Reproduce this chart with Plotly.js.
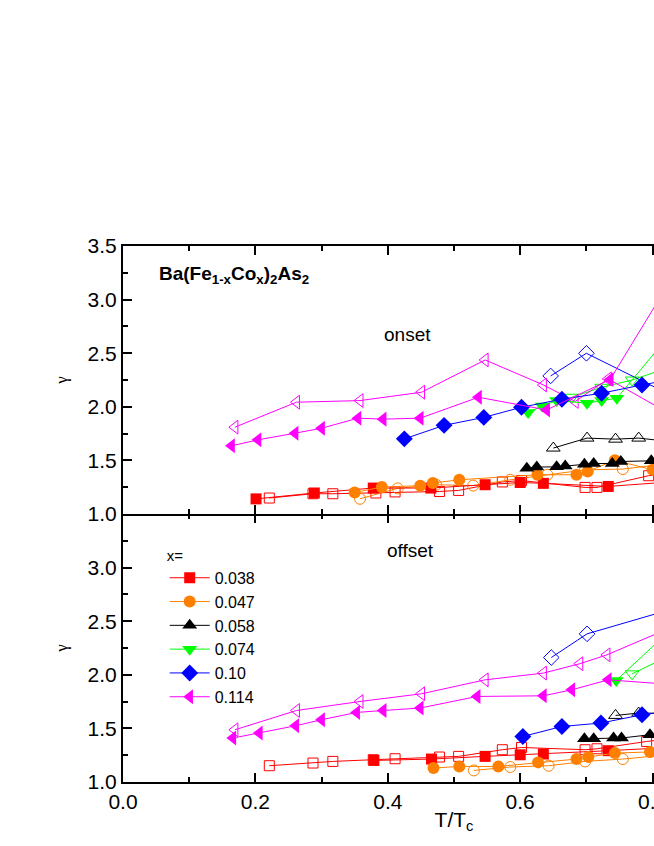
<!DOCTYPE html>
<html>
<head>
<meta charset="utf-8">
<script src="https://cdn.plot.ly/plotly-3.0.1.min.js"></script>
<style>
  html, body { margin: 0; padding: 0; overflow: hidden; background: #fff; }
  #chart { width: 820px; height: 846px; }
</style>
</head>
<body>
<div id="chart"></div>
<script>
// Ba(Fe1-xCox)2As2 anisotropy gamma vs T/Tc, points are [T/Tc, gamma]
const compositions = ["0.038", "0.047", "0.058", "0.074", "0.10", "0.114"];

// onset (top panel), filled = one sample set, open = the other
const onset038Filled = [[0.201,1.141],[0.289,1.196],[0.378,1.242],[0.465,1.242],[0.547,1.273],[0.600,1.294],[0.635,1.286],[0.733,1.257],[0.85,1.31]];
const onset038Open = [[0.221,1.149],[0.287,1.189],[0.317,1.189],[0.382,1.196],[0.411,1.206],[0.478,1.210],[0.507,1.220],[0.573,1.299],[0.602,1.312],[0.698,1.248],[0.716,1.248],[0.794,1.357],[0.85,1.40]];
const onset047Filled = [[0.350,1.201],[0.391,1.251],[0.449,1.264],[0.468,1.289],[0.508,1.319],[0.626,1.366],[0.685,1.366],[0.702,1.397],[0.743,1.501],[0.800,1.412],[0.85,1.45]];
const onset047Open = [[0.358,1.142],[0.415,1.239],[0.473,1.273],[0.529,1.265],[0.585,1.319],[0.641,1.366],[0.698,1.412],[0.755,1.419],[0.85,1.49]];
const onset058Filled = [[0.610,1.426],[0.625,1.438],[0.655,1.440],[0.668,1.448],[0.697,1.464],[0.711,1.471],[0.739,1.471],[0.752,1.490],[0.798,1.496],[0.85,1.51]];
const onset058Open = [[0.650,1.615],[0.701,1.708],[0.744,1.698],[0.779,1.708],[0.85,1.66]];
const onset074Filled = [[0.612,1.946],[0.633,2.008],[0.655,2.058],[0.701,2.034],[0.723,2.058],[0.746,2.080],[0.85,2.85]];
const onset074Open = [[0.678,2.089],[0.723,2.182],[0.769,2.250],[0.85,2.42]];
const onset10Filled = [[0.425,1.701],[0.485,1.827],[0.545,1.901],[0.602,1.996],[0.663,2.071],[0.723,2.127],[0.784,2.204],[0.85,2.28]];
const onset10Open = [[0.646,2.288],[0.700,2.499],[0.85,2.04]];
const onset114Filled = [[0.164,1.636],[0.204,1.692],[0.260,1.754],[0.300,1.800],[0.355,1.894],[0.393,1.885],[0.449,1.894],[0.537,2.089],[0.640,1.971],[0.736,2.255],[0.84,3.31]];
const onset114Open = [[0.169,1.810],[0.262,2.043],[0.358,2.058],[0.451,2.136],[0.547,2.437],[0.635,2.204],[0.683,2.050],[0.733,2.260],[0.85,1.85]];

// offset (bottom panel)
const offset038Filled = [[0.379,1.201],[0.466,1.214],[0.547,1.239],[0.600,1.254],[0.635,1.261],[0.733,1.292],[0.85,1.33]];
const offset038Open = [[0.221,1.152],[0.287,1.177],[0.317,1.192],[0.378,1.208],[0.411,1.217],[0.478,1.233],[0.507,1.239],[0.573,1.301],[0.602,1.322],[0.698,1.301],[0.716,1.310],[0.791,1.378],[0.85,1.42]];
const offset047Filled = [[0.469,1.130],[0.508,1.145],[0.567,1.145],[0.627,1.183],[0.685,1.214],[0.703,1.233],[0.743,1.270],[0.796,1.280],[0.85,1.31]];
const offset047Open = [[0.530,1.108],[0.585,1.140],[0.643,1.152],[0.698,1.192],[0.755,1.214],[0.85,1.27]];
const offset058Filled = [[0.697,1.404],[0.711,1.404],[0.741,1.410],[0.753,1.410],[0.796,1.441],[0.85,1.46]];
const offset058Open = [[0.744,1.621],[0.779,1.643],[0.85,1.64]];
const offset074Filled = [[0.745,1.947],[0.85,2.55]];
const offset074Open = [[0.769,2.009],[0.85,2.25]];
const offset10Filled = [[0.604,1.425],[0.663,1.518],[0.722,1.550],[0.784,1.627],[0.85,1.68]];
const offset10Open = [[0.647,2.161],[0.701,2.382],[0.85,2.65]];
const offset114Filled = [[0.166,1.410],[0.206,1.457],[0.261,1.525],[0.300,1.581],[0.353,1.649],[0.393,1.667],[0.449,1.690],[0.535,1.798],[0.635,1.804],[0.678,1.860],[0.733,1.953],[0.85,1.90]];
const offset114Open = [[0.169,1.487],[0.262,1.667],[0.358,1.751],[0.451,1.823],[0.547,1.953],[0.635,2.016],[0.690,2.103],[0.731,2.186],[0.85,2.50]];

const xTicks = [0, 0.2, 0.4, 0.6, 0.8, 1.0];
const yTicksTop = [1.0, 1.5, 2.0, 2.5, 3.0, 3.5];
const yTicksBottom = [1.0, 1.5, 2.0, 2.5, 3.0];

// styles, one per composition
const colors = ["#ff0000", "#ff8000", "#000000", "#00ff00", "#0000ff", "#ff00ff"];
const symbols = ["square", "circle", "triangle-up", "triangle-down", "diamond", "triangle-left"];
const sizes = [11, 12, 13, 13, 13, 13];

const onsetFilled = [onset038Filled, onset047Filled, onset058Filled, onset074Filled, onset10Filled, onset114Filled];
const onsetOpen = [onset038Open, onset047Open, onset058Open, onset074Open, onset10Open, onset114Open];
const offsetFilled = [offset038Filled, offset047Filled, offset058Filled, offset074Filled, offset10Filled, offset114Filled];
const offsetOpen = [offset038Open, offset047Open, offset058Open, offset074Open, offset10Open, offset114Open];

const FONT = "Arial, 'Liberation Sans', sans-serif";

function makeTrace(points, i, open, top, inLegend) {
    return {
        type: "scatter",
        mode: "lines+markers",
        x: points.map(p => p[0]),
        y: points.map(p => p[1]),
        xaxis: top ? "x2" : "x",
        yaxis: top ? "y2" : "y",
        name: compositions[i],
        showlegend: inLegend,
        line: {color: colors[i], width: 1},
        marker: {
            symbol: open ? symbols[i] + "-open" : symbols[i],
            color: colors[i],
            size: open ? sizes[i] - 1 : sizes[i],
            line: {color: colors[i], width: open ? 1 : 0}
        },
        cliponaxis: true
    };
}

const traces = [];
for (let i = 0; i < compositions.length; i++) {
    traces.push(makeTrace(onsetOpen[i], i, true, true, false));
    traces.push(makeTrace(offsetOpen[i], i, true, false, false));
}
for (let i = 0; i < compositions.length; i++) {
    traces.push(makeTrace(onsetFilled[i], i, false, true, false));
    traces.push(makeTrace(offsetFilled[i], i, false, false, true));
}
// empty trace so the tick-only axis on top of the lower panel gets drawn
traces.push({type: "scatter", x: [], y: [], xaxis: "x3", yaxis: "y", showlegend: false, hoverinfo: "skip"});

const minorX = {dtick: 0.1, ticks: "inside", ticklen: 5, tickwidth: 2, tickcolor: "#000"};
const minorY = {dtick: 0.25, ticks: "inside", ticklen: 5, tickwidth: 2, tickcolor: "#000"};

const axisCommon = {
    showline: true,
    linecolor: "#000",
    linewidth: 2,
    ticks: "inside",
    ticklen: 9,
    tickwidth: 2,
    tickcolor: "#000",
    showgrid: false,
    zeroline: false,
    tickfont: {family: FONT, size: 21, color: "#000"},
    tickformat: ".1f"
};

const layout = {
    width: 820,
    height: 846,
    margin: {l: 123.3, r: 35.2, t: 245.7, b: 63.7},
    paper_bgcolor: "#fff",
    plot_bgcolor: "rgba(0,0,0,0)",
    font: {family: FONT, color: "#000"},
    xaxis: Object.assign({}, axisCommon, {
        range: [0, 1.0],
        tickvals: xTicks,
        minor: minorX,
        anchor: "y",
        mirror: false,
        title: {text: "T/T<sub>c</sub>", font: {family: FONT, size: 21}, standoff: 0}
    }),
    xaxis2: Object.assign({}, axisCommon, {
        range: [0, 1.0],
        matches: "x",
        tickvals: xTicks,
        showticklabels: false,
        minor: minorX,
        mirror: "ticks",
        anchor: "y2"
    }),
    xaxis3: Object.assign({}, axisCommon, {
        range: [0, 1.0],
        matches: "x",
        overlaying: "x",
        side: "top",
        anchor: "y",
        showline: false,
        tickvals: xTicks,
        showticklabels: false,
        minor: minorX
    }),
    yaxis: Object.assign({}, axisCommon, {
        domain: [0, 0.5],
        range: [1.0, 3.5],
        tickvals: yTicksBottom,
        minor: minorY,
        mirror: "ticks",
        title: {text: "γ", font: {family: "'Liberation Serif', serif", size: 17}, standoff: 16}
    }),
    yaxis2: Object.assign({}, axisCommon, {
        domain: [0.5, 1],
        range: [1.0, 3.5],
        tickvals: yTicksTop,
        minor: minorY,
        mirror: "ticks",
        anchor: "x2",
        title: {text: "γ", font: {family: "'Liberation Serif', serif", size: 17}, standoff: 16}
    }),
    legend: {
        x: 0.063,
        y: 0.449,
        xanchor: "left",
        yanchor: "top",
        bgcolor: "rgba(0,0,0,0)",
        font: {family: FONT, size: 16},
        title: {text: "x=", font: {family: FONT, size: 15}},
        tracegroupgap: 0,
        itemwidth: 40
    },
    annotations: [
        {
            xref: "x2", yref: "y2", x: 0.051, y: 3.23, xanchor: "left", yanchor: "middle",
            text: "<b>Ba(Fe<sub>1-x</sub>Co<sub>x</sub>)<sub>2</sub>As<sub>2</sub></b>",
            showarrow: false, font: {family: FONT, size: 19}
        },
        {
            xref: "x2", yref: "y2", x: 0.430, y: 2.67, xanchor: "center", yanchor: "middle",
            text: "onset", showarrow: false, font: {family: FONT, size: 19}
        },
        {
            xref: "x", yref: "y", x: 0.434, y: 3.16, xanchor: "center", yanchor: "middle",
            text: "offset", showarrow: false, font: {family: FONT, size: 19}
        }
    ]
};

Plotly.newPlot("chart", traces, layout, {displayModeBar: false, staticPlot: true});
</script>
</body>
</html>
